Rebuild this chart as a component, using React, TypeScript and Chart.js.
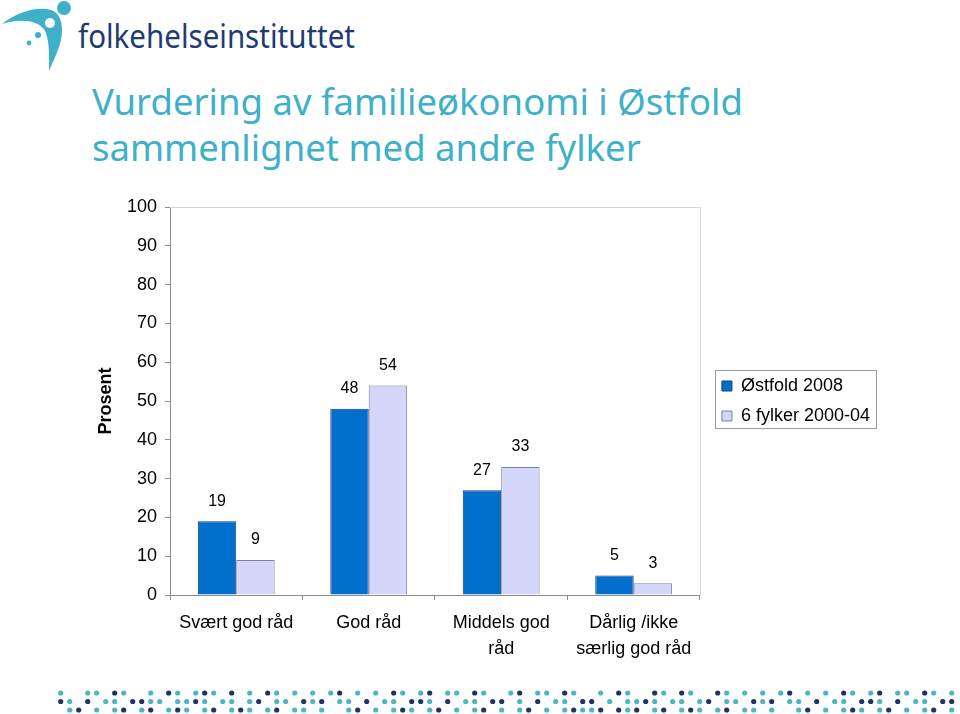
import React, { useEffect, useRef } from "react";
import { Chart, registerables } from "chart.js";

Chart.register(...registerables);

const categories: string[][] = [
  ["Svært god råd"],
  ["God råd"],
  ["Middels god", "råd"],
  ["Dårlig /ikke", "særlig god råd"],
];
const ostfold2008: number[] = [19, 48, 27, 5];
const sixFylker: number[] = [9, 54, 33, 3];
const seriesNames: string[] = ["Østfold 2008", "6 fylker 2000-04"];
const yTicks: number[] = [0, 10, 20, 30, 40, 50, 60, 70, 80, 90, 100];

// decorative dot band (slot indices)
const dotRow1Teal = [0,3,4,7,10,13,15,17,21,24,26,28,30,33,35,38,40,43,44,47,50,53,54,57,60,63,67,70,74,76,78,80,83,85,88,90,93,94,97,99];
const dotRow1Navy = [6,12,16,19,23,31,37,41,46,51,56,62,66,69,73,81,87,91,96];
const dotRow2Teal = [1,5,6,10,11,13,14,16,18,19,21,24,25,28,31,32,36,37,41,45,46,51,55,56,61,63,64,66,68,69,71,74,75,78,81,82,86,87,91,95,96];
const dotRow2Navy = [0,3,8,9,15,22,27,29,34,39,40,43,48,49,53,58,59,65,72,77,79,84,89,90,93,98,99];
const dotRow3Teal = [1,4,6,9,12,14,16,19,21,23,26,27,29,32,35,37,39,41,44,46,49,51,54,56,58,59,63,66,69,71,73,76,77,79,82,85,87,89,91,94,96,99];
const dotRow3Navy = [2,7,10,13,17,20,24,33,38,42,47,52,57,60,62,64,67,70,74,83,88,92,97];

const TEAL = "#3eb0c8";
const NAVY = "#1f3464";
const FONT = "'Liberation Sans', Arial, sans-serif";

const valueLabels = {
  id: "valueLabels",
  afterDatasetsDraw(chart: any) {
    const ctx = chart.ctx;
    ctx.save();
    ctx.font = `16px ${FONT}`;
    ctx.fillStyle = "#000";
    ctx.textAlign = "center";
    ctx.textBaseline = "middle";
    chart.data.datasets.forEach((ds: any, i: number) => {
      const meta = chart.getDatasetMeta(i);
      meta.data.forEach((bar: any, j: number) => {
        ctx.fillText(String(ds.data[j]), bar.x, bar.y - 20);
      });
    });
    ctx.restore();
  },
};

const plotFrame = {
  id: "plotFrame",
  afterLayout(chart: any) {
    const lg = chart.legend;
    if (lg) {
      lg.left += 10;
      lg.right += 10;
    }
  },
  afterDraw(chart: any) {
    const { ctx, chartArea } = chart;
    ctx.save();
    ctx.strokeStyle = "#d4d4d4";
    ctx.lineWidth = 1;
    ctx.beginPath();
    ctx.moveTo(chartArea.left, chartArea.top + 0.5);
    ctx.lineTo(chartArea.right + 0.5, chartArea.top + 0.5);
    ctx.lineTo(chartArea.right + 0.5, chartArea.bottom);
    ctx.stroke();
    const lg = chart.legend;
    if (lg && lg.legendHitBoxes && lg.legendHitBoxes.length) {
      const hb = lg.legendHitBoxes;
      const l = Math.min(...hb.map((h: any) => h.left)) - 7;
      const r = Math.max(...hb.map((h: any) => h.left + h.width)) + 6;
      const t = hb[0].top - 7;
      const b = hb[hb.length - 1].top + hb[hb.length - 1].height + 3;
      ctx.strokeStyle = "#9a9a9a";
      ctx.strokeRect(Math.round(l) + 0.5, Math.round(t) + 0.5, Math.round(r - l), Math.round(b - t));
    }
    ctx.restore();
  },
};

function ChartCanvas() {
  const ref = useRef<HTMLCanvasElement | null>(null);
  useEffect(() => {
    if (!ref.current) return;
    Chart.defaults.font.family = FONT;
    const chart = new Chart(ref.current, {
      type: "bar",
      data: {
        labels: categories,
        datasets: [
          {
            label: seriesNames[0],
            data: ostfold2008,
            backgroundColor: "#0070cc",
            borderColor: "#1c3a78",
            borderWidth: 1,
            categoryPercentage: 0.58,
            barPercentage: 1,
          },
          {
            label: seriesNames[1],
            data: sixFylker,
            backgroundColor: "#d4d6fa",
            borderColor: "#7a80aa",
            borderWidth: 1,
            categoryPercentage: 0.58,
            barPercentage: 1,
          },
        ],
      },
      options: {
        animation: false,
        responsive: false,
        maintainAspectRatio: false,
        layout: { padding: { left: 91, top: 22, right: 90, bottom: 0 } },
        plugins: {
          legend: {
            position: "right",
            fullSize: false,
            labels: {
              boxWidth: 10,
              boxHeight: 10,
              padding: 12,
              color: "#000",
              font: { size: 18, family: FONT },
            },
          },
          tooltip: { enabled: false },
        },
        scales: {
          x: {
            grid: {
              offset: true,
              drawOnChartArea: false,
              drawTicks: true,
              tickLength: 5,
              color: "#8c8c8c",
            },
            border: { display: true, color: "#8c8c8c" },
            ticks: {
              color: "#000",
              padding: 10,
              maxRotation: 0,
              font: { size: 18, family: FONT, lineHeight: 1.45 },
            },
            afterFit(scale: any) {
              scale.height = 75;
            },
          },
          y: {
            min: 0,
            max: 100,
            afterBuildTicks(scale: any) {
              scale.ticks = yTicks.map((v) => ({ value: v }));
            },
            grid: {
              drawOnChartArea: false,
              drawTicks: true,
              tickLength: 5,
              color: "#8c8c8c",
            },
            border: { display: true, color: "#8c8c8c" },
            ticks: {
              color: "#000",
              padding: 8,
              font: { size: 18, family: FONT },
            },
            title: {
              display: true,
              text: "Prosent",
              color: "#000",
              font: { size: 18, weight: "bold", family: FONT },
            },
            afterFit(scale: any) {
              scale.width = 79;
            },
          },
        },
      },
      plugins: [valueLabels, plotFrame],
    });
    return () => chart.destroy();
  }, []);
  return (
    <canvas
      ref={ref}
      width={960}
      height={485}
      style={{ position: "absolute", left: 0, top: 185, width: 960, height: 485 }}
    />
  );
}

function Logo() {
  return (
    <svg width={370} height={75} style={{ position: "absolute", left: 0, top: 0 }}>
      <path
        d="M 2 24 C 16 13, 36 6, 51 10 C 64 14, 64 34, 59 47 C 56 56, 52 63, 49 71 C 49 60, 50 45, 46 33 C 42 22, 25 17, 2 24 Z"
        fill={TEAL}
      />
      <circle cx={50} cy={23} r={5} fill="#fff" />
      <circle cx={64} cy={8} r={7} fill={TEAL} />
      <circle cx={38} cy={35} r={3} fill={TEAL} />
      <circle cx={29} cy={43} r={2.4} fill={TEAL} />
      <text
        x={78}
        y={48}
        fontFamily="'Noto Sans', 'Open Sans', sans-serif"
        fontSize={33}
        fill="#1f3b72"
        textLength={277}
        lengthAdjust="spacingAndGlyphs"
      >
        folkehelseinstituttet
      </text>
    </svg>
  );
}

function DotBand() {
  const rows = [
    { y: 693, teal: dotRow1Teal, navy: dotRow1Navy },
    { y: 701.5, teal: dotRow2Teal, navy: dotRow2Navy },
    { y: 710, teal: dotRow3Teal, navy: dotRow3Navy },
  ];
  return (
    <svg width={960} height={34} viewBox="0 680 960 34" style={{ position: "absolute", left: 0, top: 680 }}>
      {rows.map((r, ri) => (
        <g key={ri}>
          {r.teal.map((s) => (
            <circle key={"t" + s} cx={60.7 + 9 * s} cy={r.y} r={2.6} fill="#4db6c2" />
          ))}
          {r.navy.map((s) => (
            <circle key={"n" + s} cx={60.7 + 9 * s} cy={r.y} r={2.6} fill={NAVY} />
          ))}
        </g>
      ))}
    </svg>
  );
}

export default function App() {
  return (
    <div
      style={{
        position: "fixed",
        left: 0,
        top: 0,
        width: 960,
        height: 714,
        background: "#fff",
        overflow: "hidden",
      }}
    >
      <Logo />
      <div
        style={{
          position: "absolute",
          left: 92,
          top: 78,
          fontFamily: "'Comic Sans MS', 'Noto Sans', sans-serif",
          fontSize: 36.5,
          lineHeight: "46px",
          color: TEAL,
          whiteSpace: "nowrap",
        }}
      >
        Vurdering av familieøkonomi i Østfold
        <br />
        sammenlignet med andre fylker
      </div>
      <ChartCanvas />
      <DotBand />
    </div>
  );
}
